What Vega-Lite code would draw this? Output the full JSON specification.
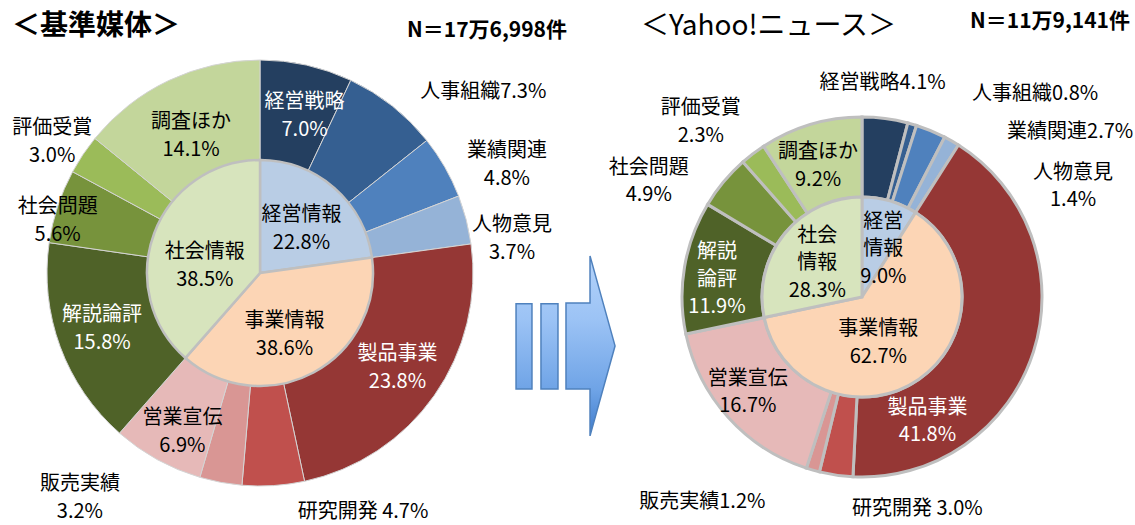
{
  "$schema": "https://vega.github.io/schema/vega-lite/v6.json",
  "padding": {"top": 10, "left": 0, "right": 0, "bottom": 0},
  "background": "#ffffff",
  "config": {
    "view": {"stroke": null},
    "concat": {"spacing": 0},
    "title": {"font": "Noto Sans CJK JP", "color": "#000000", "offset": 6},
    "text": {"font": "Noto Sans CJK JP", "fontSize": 20, "lineBreak": "\n", "lineHeight": 28, "color": "#000000"}
  },
  "datasets": {
    "kijun": [
      {"ring": "outer", "idx": 1, "name": "経営戦略", "value": 7.0, "label": "経営戦略\n7.0%"},
      {"ring": "outer", "idx": 2, "name": "人事組織", "value": 7.3, "label": "人事組織7.3%"},
      {"ring": "outer", "idx": 3, "name": "業績関連", "value": 4.8, "label": "業績関連\n4.8%"},
      {"ring": "outer", "idx": 4, "name": "人物意見", "value": 3.7, "label": "人物意見\n3.7%"},
      {"ring": "outer", "idx": 5, "name": "製品事業", "value": 23.8, "label": "製品事業\n23.8%"},
      {"ring": "outer", "idx": 6, "name": "研究開発", "value": 4.7, "label": "研究開発 4.7%"},
      {"ring": "outer", "idx": 7, "name": "販売実績", "value": 3.2, "label": "販売実績\n3.2%"},
      {"ring": "outer", "idx": 8, "name": "営業宣伝", "value": 6.9, "label": "営業宣伝\n6.9%"},
      {"ring": "outer", "idx": 9, "name": "解説論評", "value": 15.8, "label": "解説論評\n15.8%"},
      {"ring": "outer", "idx": 10, "name": "社会問題", "value": 5.6, "label": "社会問題\n5.6%"},
      {"ring": "outer", "idx": 11, "name": "評価受賞", "value": 3.0, "label": "評価受賞\n3.0%"},
      {"ring": "outer", "idx": 12, "name": "調査ほか", "value": 14.1, "label": "調査ほか\n14.1%"},
      {"ring": "inner", "idx": 1, "name": "経営情報", "value": 22.8, "label": "経営情報\n22.8%"},
      {"ring": "inner", "idx": 2, "name": "事業情報", "value": 38.6, "label": "事業情報\n38.6%"},
      {"ring": "inner", "idx": 3, "name": "社会情報", "value": 38.5, "label": "社会情報\n38.5%"}
    ],
    "yahoo": [
      {"ring": "outer", "idx": 1, "name": "経営戦略", "value": 4.1, "label": "経営戦略4.1%"},
      {"ring": "outer", "idx": 2, "name": "人事組織", "value": 0.8, "label": "人事組織0.8%"},
      {"ring": "outer", "idx": 3, "name": "業績関連", "value": 2.7, "label": "業績関連2.7%"},
      {"ring": "outer", "idx": 4, "name": "人物意見", "value": 1.4, "label": "人物意見\n1.4%"},
      {"ring": "outer", "idx": 5, "name": "製品事業", "value": 41.8, "label": "製品事業\n41.8%"},
      {"ring": "outer", "idx": 6, "name": "研究開発", "value": 3.0, "label": "研究開発 3.0%"},
      {"ring": "outer", "idx": 7, "name": "販売実績", "value": 1.2, "label": "販売実績1.2%"},
      {"ring": "outer", "idx": 8, "name": "営業宣伝", "value": 16.7, "label": "営業宣伝\n16.7%"},
      {"ring": "outer", "idx": 9, "name": "解説論評", "value": 11.9, "label": "解説\n論評\n11.9%"},
      {"ring": "outer", "idx": 10, "name": "社会問題", "value": 4.9, "label": "社会問題\n4.9%"},
      {"ring": "outer", "idx": 11, "name": "評価受賞", "value": 2.3, "label": "評価受賞\n2.3%"},
      {"ring": "outer", "idx": 12, "name": "調査ほか", "value": 9.2, "label": "調査ほか\n9.2%"},
      {"ring": "inner", "idx": 1, "name": "経営情報", "value": 9.0, "label": "経営\n情報\n9.0%"},
      {"ring": "inner", "idx": 2, "name": "事業情報", "value": 62.7, "label": "事業情報\n62.7%"},
      {"ring": "inner", "idx": 3, "name": "社会情報", "value": 28.3, "label": "社会\n情報\n28.3%"}
    ]
  },
  "bounds": "flush",
  "spacing": 0,
  "hconcat": [
    {
      "width": 520, "height": 452,
      "title": {"text": "＜基準媒体＞", "anchor": "start", "frame": "group", "dx": 12, "fontSize": 28, "fontWeight": "bold"},
      "data": {"name": "kijun"},
      "encoding": {
        "theta": {"field": "value", "type": "quantitative", "stack": true},
        "order": {"field": "idx", "type": "quantitative"}
      },
      "layer": [
        {
          "transform": [{"filter": "datum.ring === 'outer'"}],
          "mark": {"type": "arc", "innerRadius": 113, "outerRadius": 213, "stroke": "#d4d4d4", "strokeWidth": 1},
          "encoding": {"color": {"field": "name", "type": "nominal", "legend": null, "scale": {"domain": ["経営戦略","人事組織","業績関連","人物意見","製品事業","研究開発","販売実績","営業宣伝","解説論評","社会問題","評価受賞","調査ほか","経営情報","事業情報","社会情報"], "range": ["#243f60","#355f91","#4f81bd","#95b3d7","#953735","#c0504d","#d99694","#e6b9b8","#4f6228","#77933c","#9bbb59","#c3d69b","#b9cde5","#fcd5b5","#d7e4bd"]}}}
        },
        {
          "transform": [{"filter": "datum.ring === 'inner'"}],
          "mark": {"type": "arc", "innerRadius": 0, "outerRadius": 113, "stroke": "#bfbfbf", "strokeWidth": 2.5},
          "encoding": {"color": {"field": "name", "type": "nominal", "legend": null, "scale": {"domain": ["経営戦略","人事組織","業績関連","人物意見","製品事業","研究開発","販売実績","営業宣伝","解説論評","社会問題","評価受賞","調査ほか","経営情報","事業情報","社会情報"], "range": ["#243f60","#355f91","#4f81bd","#95b3d7","#953735","#c0504d","#d99694","#e6b9b8","#4f6228","#77933c","#9bbb59","#c3d69b","#b9cde5","#fcd5b5","#d7e4bd"]}}}
        },
        {
          "transform": [{"filter": "datum.ring === 'inner'"}],
          "mark": {
            "type": "text", "radius": 60,
            "dx": {"expr": "({'経営情報': 2, '事業情報': -4, '社会情報': 1})[datum.name] || 0"},
            "dy": {"expr": "({'経営情報': -13, '事業情報': -5, '社会情報': 0})[datum.name] || 0"}
          },
          "encoding": {"text": {"field": "label", "type": "nominal"}}
        },
        {
          "transform": [{"filter": "datum.ring === 'outer'"}],
          "mark": {
            "type": "text",
            "radius": {"expr": "indexof(['経営戦略','調査ほか','解説論評','営業宣伝','製品事業'], datum.name) >= 0 ? 163 : 250"},
            "dx": {"expr": "({'経営戦略': 9, '調査ほか': 1, '解説論評': -5, '営業宣伝': 1, '製品事業': 4, '人事組織': 5, '業績関連': 30, '人物意見': 10, '研究開発': 22, '販売実績': -134, '社会問題': 35, '評価受賞': 0})[datum.name] || 0"},
            "dy": {"expr": "({'経営戦略': -12, '調査ほか': -4, '解説論評': -14, '営業宣伝': 2, '製品事業': -13, '人事組織': 15, '業績関連': 2, '人物意見': 15, '研究開発': -11, '販売実績': -35, '社会問題': 12, '評価受賞': -6})[datum.name] || 0"},
            "align": {"expr": "indexof(['人事組織','研究開発'], datum.name) >= 0 ? 'left' : 'center'"},
            "fill": {"expr": "indexof(['経営戦略','解説論評','製品事業'], datum.name) >= 0 ? '#ffffff' : '#000000'"}
          },
          "encoding": {"text": {"field": "label", "type": "nominal"}}
        }
      ]
    },
    {
      "width": 90, "height": 452,
      "title": {"text": "N＝17万6,998件", "anchor": "end", "frame": "group", "dx": -43, "fontSize": 21, "fontWeight": "bold"},
      "data": {"values": [{"k": "arrow"}]},
      "mark": {
        "type": "point",
        "shape": "M-0.544,0.343L-0.367,0.343L-0.367,1.288L-0.544,1.288ZM-0.267,0.343L-0.078,0.343L-0.078,1.288L-0.267,1.288ZM0.011,0.332L0.278,0.332L0.278,-0.19L0.556,0.81L0.278,1.81L0.278,1.288L0.011,1.288Z",
        "size": 32400,
        "filled": true,
        "opacity": 1,
        "fill": {"gradient": "linear", "x1": 0, "y1": 0, "x2": 0, "y2": 1, "stops": [{"offset": 0, "color": "#b4d3fa"}, {"offset": 0.35, "color": "#9cc3f5"}, {"offset": 0.75, "color": "#6ea3e6"}, {"offset": 1, "color": "#3f7ccc"}]},
        "stroke": "#4f81bd",
        "strokeWidth": 1.5
      },
      "encoding": {}
    },
    {
      "width": 504, "height": 452,
      "title": {"text": "＜Yahoo!ニュース＞", "anchor": "start", "frame": "group", "dx": 31, "fontSize": 28, "fontWeight": "normal"},
      "data": {"name": "yahoo"},
      "encoding": {
        "theta": {"field": "value", "type": "quantitative", "stack": true},
        "order": {"field": "idx", "type": "quantitative"}
      },
      "layer": [
        {
          "transform": [{"filter": "datum.ring === 'outer'"}],
          "mark": {"type": "arc", "innerRadius": 100, "outerRadius": 180, "stroke": "#bfbfbf", "strokeWidth": 3, "yOffset": 24},
          "encoding": {"color": {"field": "name", "type": "nominal", "legend": null, "scale": {"domain": ["経営戦略","人事組織","業績関連","人物意見","製品事業","研究開発","販売実績","営業宣伝","解説論評","社会問題","評価受賞","調査ほか","経営情報","事業情報","社会情報"], "range": ["#243f60","#355f91","#4f81bd","#95b3d7","#953735","#c0504d","#d99694","#e6b9b8","#4f6228","#77933c","#9bbb59","#c3d69b","#b9cde5","#fcd5b5","#d7e4bd"]}}}
        },
        {
          "transform": [{"filter": "datum.ring === 'inner'"}],
          "mark": {"type": "arc", "innerRadius": 0, "outerRadius": 100, "stroke": "#bfbfbf", "strokeWidth": 3, "yOffset": 24},
          "encoding": {"color": {"field": "name", "type": "nominal", "legend": null, "scale": {"domain": ["経営戦略","人事組織","業績関連","人物意見","製品事業","研究開発","販売実績","営業宣伝","解説論評","社会問題","評価受賞","調査ほか","経営情報","事業情報","社会情報"], "range": ["#243f60","#355f91","#4f81bd","#95b3d7","#953735","#c0504d","#d99694","#e6b9b8","#4f6228","#77933c","#9bbb59","#c3d69b","#b9cde5","#fcd5b5","#d7e4bd"]}}}
        },
        {
          "transform": [{"filter": "datum.ring === 'inner'"}],
          "mark": {
            "type": "text", "radius": 55, "yOffset": 24, "lineHeight": 27.5,
            "dx": {"expr": "({'経営情報': 6, '事業情報': -15, '社会情報': -2})[datum.name] || 0"},
            "dy": {"expr": "({'経営情報': -22.5, '事業情報': -12.75, '社会情報': -26.5})[datum.name] || 0"}
          },
          "encoding": {"text": {"field": "label", "type": "nominal"}}
        },
        {
          "transform": [{"filter": "datum.ring === 'outer'"}],
          "mark": {
            "type": "text", "yOffset": 24, "lineHeight": 27.5,
            "radius": {"expr": "indexof(['調査ほか','解説論評','営業宣伝','製品事業'], datum.name) >= 0 ? 140 : 215"},
            "dx": {"expr": "({'調査ほか': -4, '解説論評': -7, '営業宣伝': -10, '製品事業': -68, '経営戦略': -7, '人事組織': 50, '業績関連': 189, '人物意見': 104, '評価受賞': -31, '社会問題': -48, '販売実績': -101, '研究開発': 21})[datum.name] || 0"},
            "dy": {"expr": "({'調査ほか': -10.75, '解説論評': -21.5, '営業宣伝': -11.75, '製品事業': 68.25, '経営戦略': -1, '人事組織': 3, '業績関連': 34, '人物意見': 62.25, '評価受賞': -17.75, '社会問題': 8.25, '販売実績': -2, '研究開発': -1})[datum.name] || 0"},
            "align": {"expr": "datum.name === '人事組織' || datum.name === '研究開発' ? 'left' : (datum.name === '業績関連' ? 'right' : 'center')"},
            "fill": {"expr": "indexof(['解説論評','製品事業'], datum.name) >= 0 ? '#ffffff' : '#000000'"}
          },
          "encoding": {"text": {"field": "label", "type": "nominal"}}
        }
      ]
    },
    {
      "width": 1, "height": 1,
      "title": {"text": "N＝11万9,141件", "anchor": "end", "frame": "group", "dx": 15, "fontSize": 21, "fontWeight": "bold"},
      "data": {"values": [{"k": 1}]},
      "mark": {"type": "text"},
      "encoding": {"text": {"value": ""}}
    }
  ]
}
